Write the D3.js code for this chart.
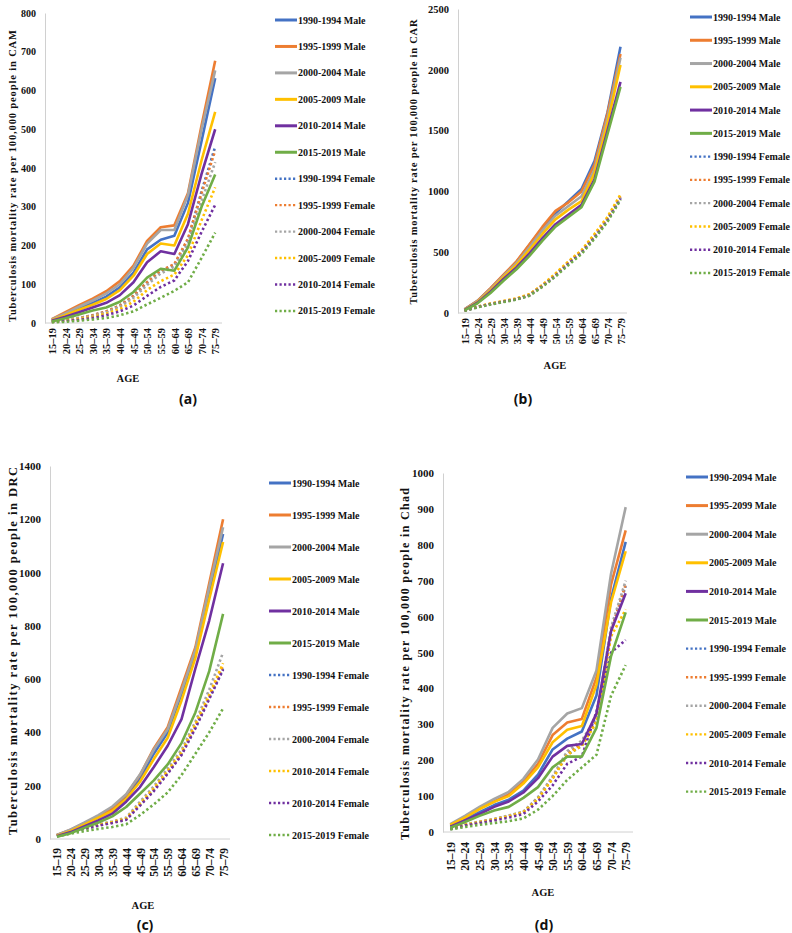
<!DOCTYPE html>
<html><head><meta charset="utf-8">
<script src="https://cdn.jsdelivr.net/npm/d3@7"></script>
<style>body{margin:0;background:#fff}svg{display:block}</style>
</head><body>
<svg id="c" width="792" height="933"></svg>
<script>
const ages = ["15–19","20–24","25–29","30–34","35–39","40–44","45–49","50–54","55–59","60–64","65–69","70–74","75–79"];
const periods = ["1990-1994","1995-1999","2000-2004","2005-2009","2010-2014","2015-2019"];
const colors = ["#4472C4","#ED7D31","#A5A5A5","#FFC000","#7030A0","#70AD47"];

const legendA = ["1990-1994 Male","1995-1999 Male","2000-2004 Male","2005-2009 Male","2010-2014 Male","2015-2019 Male",
  "1990-1994 Female","1995-1999 Female","2000-2004 Female","2005-2009 Female","2010-2014 Female","2015-2019 Female"];
const legendB = legendA;
const legendC = ["1990-1994 Male","1995-1999 Male","2000-2004 Male","2005-2009 Male","2010-2014 Male","2015-2019 Male",
  "1990-1994 Female","1995-1999 Female","2000-2004 Female","2010-2014 Female","2010-2014 Female","2015-2019 Female"];
const legendD = ["1990-2094 Male","1995-2099 Male","2000-2004 Male","2005-2009 Male","2010-2014 Male","2015-2019 Male",
  "1990-1994 Female","1995-1999 Female","2000-2004 Female","2005-2009 Female","2010-2014 Female","2015-2019 Female"];

// CAM
const camMale = [
  [8,22,38,52,68,92,130,190,215,225,310,470,632],
  [10,28,46,63,82,108,148,212,247,252,335,510,677],
  [9,25,42,58,76,100,142,205,240,240,330,500,652],
  [7,20,34,47,62,85,122,178,205,200,282,420,545],
  [6,16,28,40,52,72,105,157,185,178,255,385,500],
  [4,12,22,32,40,55,80,117,140,135,195,300,383]];
const camFemale = [
  [4,8,13,20,30,45,70,105,135,150,215,340,455],
  [4,8,13,20,30,45,70,105,135,152,218,335,445],
  [3,7,12,18,27,42,65,98,128,145,205,315,415],
  [3,6,10,16,24,36,55,85,108,125,175,265,350],
  [3,5,8,13,20,30,45,70,93,110,160,235,305],
  [2,3,6,9,13,20,30,48,65,83,105,168,233]];
// CAR
const carMale = [
  [30,100,200,310,420,560,700,820,920,1020,1250,1650,2190],
  [30,100,205,315,425,565,710,840,910,1000,1220,1640,2130],
  [28,95,195,305,410,540,680,800,880,960,1180,1600,2100],
  [26,90,185,295,395,520,650,770,850,920,1150,1560,2040],
  [24,85,175,280,375,490,615,730,810,890,1100,1500,1900],
  [22,80,165,265,360,470,595,710,790,870,1080,1470,1860]];
const carFemale = [
  [20,50,75,95,115,150,225,315,415,505,630,775,950],
  [20,50,76,96,117,152,228,320,420,510,640,780,960],
  [20,48,74,94,114,150,225,315,415,505,630,775,950],
  [21,52,78,98,120,155,232,325,425,515,650,790,975],
  [19,48,72,92,112,145,220,305,405,495,620,760,940],
  [18,46,70,90,110,142,215,300,395,485,610,750,930]];
// DRC
const drcMale = [
  [14,33,55,80,110,155,225,320,400,545,700,920,1145],
  [15,35,60,85,115,165,240,340,420,570,720,960,1200],
  [15,36,62,90,122,168,242,335,412,556,710,945,1170],
  [12,30,55,80,105,150,215,300,380,520,680,900,1115],
  [10,26,48,70,95,140,195,270,350,450,640,820,1035],
  [8,22,42,62,85,120,170,220,280,360,475,630,845]];
const drcFemale = [
  [14,28,40,52,62,75,130,185,250,320,420,530,640],
  [14,28,40,52,62,75,130,188,252,322,425,535,650],
  [15,30,42,55,66,80,140,198,265,335,440,560,700],
  [14,29,41,53,64,77,133,190,255,325,430,540,660],
  [13,27,38,50,60,72,125,180,245,315,415,525,635],
  [10,20,30,38,45,55,90,130,175,240,320,400,490]];
// Chad
const chadMale = [
  [18,35,55,75,90,115,160,230,260,280,380,650,808],
  [20,42,65,85,105,140,190,270,305,315,430,690,840],
  [22,45,70,92,112,148,202,290,330,345,450,720,905],
  [20,40,64,84,100,135,180,250,285,295,410,640,782],
  [15,32,50,70,85,110,150,210,240,245,330,560,665],
  [12,28,45,60,70,95,125,180,210,210,290,490,612]];
const chadFemale = [
  [10,20,28,35,45,55,95,150,215,240,315,560,685],
  [10,20,28,35,45,55,95,152,220,245,310,560,690],
  [10,21,29,36,46,57,97,155,225,255,320,570,700],
  [10,20,28,35,44,55,92,148,215,240,305,545,620],
  [8,18,25,32,40,50,85,130,190,210,335,500,535],
  [7,14,20,25,30,38,62,100,145,180,215,380,465]];

const countries = ["CAM","CAR","DRC","Chad"];
const yMax = [800,2500,1400,1000];
const yStep = [100,500,200,100];
const tags = ["(a)","(b)","(c)","(d)"];

const panels = [
  {male:camMale,female:camFemale,legend:legendA,ax:45,right:222,top:13,bottom:323,tickFs:10,xFs:10.5,
   titleX:12,titleY:176,titleLen:292,titleFs:10.5,xlabTop:328,ageX:128,ageY:378,tagX:188,tagY:399,
   lgX:275,lgY:20,lgDy:26.45},
  {male:carMale,female:carFemale,legend:legendB,ax:458,right:627,top:9,bottom:313,tickFs:10.5,xFs:10.5,
   titleX:413,titleY:162,titleLen:285,titleFs:10.5,xlabTop:318,ageX:555,ageY:365,tagX:523,tagY:399,
   lgX:690,lgY:17,lgDy:23.27},
  {male:drcMale,female:drcFemale,legend:legendC,ax:50,right:230,top:466,bottom:839,tickFs:11,xFs:11.5,
   titleX:13,titleY:651,titleLen:368,titleFs:12.5,xlabTop:848,ageX:143,ageY:905,tagX:145,tagY:925,
   lgX:269,lgY:483,lgDy:32},
  {male:chadMale,female:chadFemale,legend:legendD,ax:443,right:633,top:473,bottom:832,tickFs:11,xFs:11.5,
   titleX:405,titleY:664,titleLen:352,titleFs:12,xlabTop:842,ageX:543,ageY:892,tagX:544,tagY:925,
   lgX:686,lgY:477,lgDy:28.6}
];

const svg = d3.select("#c");
const serif = "'Liberation Serif','Times New Roman',serif";

panels.forEach((p,i)=>{
  const g = svg.append("g");
  const x = d3.scalePoint().domain(ages).range([p.ax,p.right]).padding(0.5);
  const y = d3.scaleLinear().domain([0,yMax[i]]).range([p.bottom,p.top]);

  const yAxis = d3.axisLeft(y).tickValues(d3.range(0,yMax[i]+1,yStep[i])).tickSize(0).tickPadding(9).tickFormat(d3.format("d"));
  const ya = g.append("g").attr("transform",`translate(${p.ax},0)`).call(yAxis);
  ya.select(".domain").attr("stroke","#d0d0d0").attr("stroke-width",1);
  ya.selectAll("text").attr("font-family",serif).attr("font-weight","bold").attr("font-size",p.tickFs).attr("fill","#111");

  const xAxis = d3.axisBottom(x).tickSize(0).tickSizeOuter(0);
  const xa = g.append("g").attr("transform",`translate(0,${p.bottom})`).call(xAxis);
  xa.select(".domain").attr("stroke","#d0d0d0").attr("stroke-width",1).attr("d",`M${p.ax},0H${p.right}`);
  xa.selectAll("text")
    .attr("font-family",serif).attr("font-weight","bold").attr("font-size",p.xFs).attr("fill","#111")
    .attr("text-anchor","end").attr("dy","0.35em").attr("y",0)
    .attr("transform",`translate(0,${p.xlabTop-p.bottom}) rotate(-90)`);

  const line = d3.line().x((d,j)=>x(ages[j])).y(d=>y(d));
  p.female.forEach((s,k)=>{
    g.append("path").datum(s).attr("d",line).attr("fill","none")
      .attr("stroke",colors[k]).attr("stroke-width",2.6).attr("stroke-dasharray","2.4,2.6");
  });
  p.male.forEach((s,k)=>{
    g.append("path").datum(s).attr("d",line).attr("fill","none")
      .attr("stroke",colors[k]).attr("stroke-width",2.6).attr("stroke-linejoin","round");
  });

  g.append("text").attr("transform",`translate(${p.titleX},${p.titleY}) rotate(-90)`)
    .attr("text-anchor","middle").attr("dy","0.35em")
    .attr("font-family",serif).attr("font-weight","bold").attr("font-size",p.titleFs).attr("fill","#111")
    .attr("textLength",p.titleLen).attr("lengthAdjust","spacing")
    .text(`Tuberculosis  mortality  rate per 100,000 people in ${countries[i]}`);
  g.append("text").attr("x",p.ageX).attr("y",p.ageY).attr("text-anchor","middle").attr("dy","0.35em")
    .attr("font-family",serif).attr("font-weight","bold").attr("font-size",10.5).attr("fill","#111").text("AGE");
  g.append("text").attr("x",p.tagX).attr("y",p.tagY).attr("text-anchor","middle").attr("dy","0.35em")
    .attr("font-family","'Noto Sans','DejaVu Sans',sans-serif").attr("font-weight","bold").attr("font-size",14).attr("fill","#111").text(tags[i]);

  p.legend.forEach((lab,k)=>{
    const ly = p.lgY + k*p.lgDy;
    const female = k>=6;
    g.append("line").attr("x1",p.lgX).attr("x2",p.lgX+22).attr("y1",ly).attr("y2",ly)
      .attr("stroke",colors[k%6]).attr("stroke-width",female?2.4:3)
      .attr("stroke-dasharray",female?"2.2,2.3":null);
    g.append("text").attr("x",p.lgX+23).attr("y",ly).attr("dy","0.35em")
      .attr("font-family",serif).attr("font-weight","bold").attr("font-size",10).attr("fill","#111").text(lab);
  });
});
</script>
</body></html>
